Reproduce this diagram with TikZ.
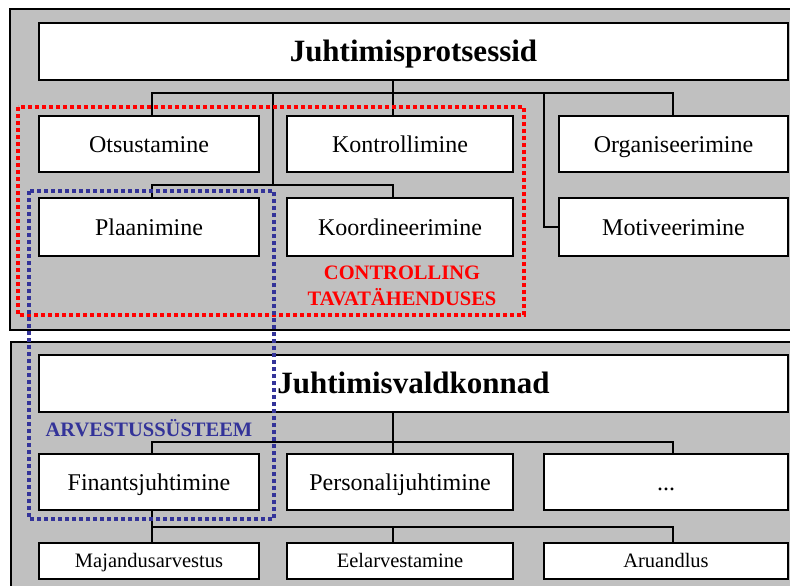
\documentclass[tikz,border=0pt]{standalone}
\usepackage{fontspec}
\setmainfont{Liberation Serif}
\begin{document}
\begin{tikzpicture}[x=1pt,y=-1pt,
  panel/.style={fill=panelgray,draw=black,line width=2pt},
  box/.style={draw=black,fill=white,line width=2pt,inner sep=0pt,
    font=\fontsize{24}{28}\selectfont,text height=16pt,text depth=0pt},
  titlebox/.style={box,font=\fontsize{31}{36}\selectfont\bfseries,text height=20.5pt},
  smallbox/.style={box,font=\fontsize{20.5}{24}\selectfont,text height=13.5pt},
  link/.style={draw=black,line width=2pt},
  reddots/.style={draw=red,line width=3.8pt,dash pattern=on 4pt off 3pt},
  bluedots/.style={draw=dotblue,line width=3.8pt,dash pattern=on 4pt off 3pt},
  tag/.style={font=\fontsize{20.5}{26}\selectfont\bfseries,align=center,inner sep=0pt}]
\definecolor{panelgray}{HTML}{C0C0C0}
\definecolor{dotblue}{HTML}{333399}
\useasboundingbox (0,0) rectangle (790,586);
\clip (0,0) rectangle (790,586);

% two grey panels
\draw[panel] (10,9) rectangle (805,330);
\draw[panel] (11,342) rectangle (805,600);

% management processes
\node[titlebox,minimum width=749pt,minimum height=57pt] (proc) at (413.5,51.5) {Juhtimisprotsessid};
\node[box,minimum width=220pt,minimum height=56pt] (ots) at (149,144) {Otsustamine};
\node[box,minimum width=226pt,minimum height=56pt] (kon) at (400,144) {Kontrollimine};
\node[box,minimum width=229pt,minimum height=56pt] (org) at (673.5,144) {Organiseerimine};
\node[box,minimum width=220pt,minimum height=58pt] (pla) at (149,227) {Plaanimine};
\node[box,minimum width=226pt,minimum height=58pt] (koo) at (400,227) {Koordineerimine};
\node[box,minimum width=229pt,minimum height=58pt] (mot) at (673.5,227) {Motiveerimine};

% management areas
\node[titlebox,minimum width=749pt,minimum height=57pt] (vald) at (413.5,383.5) {Juhtimisvaldkonnad};
\node[box,minimum width=220pt,minimum height=56pt] (fin) at (149,482) {Finantsjuhtimine};
\node[box,minimum width=226pt,minimum height=56pt] (per) at (400,482) {Personalijuhtimine};
\node[box,minimum width=244pt,minimum height=56pt] (etc) at (666,482) {...};
\node[smallbox,minimum width=220pt,minimum height=36pt] (maj) at (149,561) {Majandusarvestus};
\node[smallbox,minimum width=226pt,minimum height=36pt] (eel) at (400,561) {Eelarvestamine};
\node[smallbox,minimum width=244pt,minimum height=36pt] (aru) at (666,561) {Aruandlus};

% bus columns and junctions
\coordinate (xl) at (152,0);
\coordinate (xm) at (393,0);
\coordinate (xr) at (673,0);
\coordinate (j1) at (393,93);
\coordinate (j1a) at (273,93);
\coordinate (j1b) at (544,93);
\coordinate (j2) at (273,185);
\coordinate (j3) at (393,442);
\coordinate (j4) at (393,527);

% process tree
\draw[link] (proc.south -| j1) -- (j1);
\draw[link] (ots.north -| xl) |- (j1) -| (org.north -| xr);
\draw[link] (j1) -- (kon.north -| xm);
\draw[link] (j1a) -- (j2);
\draw[link] (pla.north -| xl) |- (j2) -| (koo.north -| xm);
\draw[link] (j1b) |- (mot.west);

% area tree
\draw[link] (vald.south -| j3) -- (j3);
\draw[link] (fin.north -| xl) |- (j3) -| (etc.north -| xr);
\draw[link] (j3) -- (per.north -| xm);
\draw[link] (fin.south -| xl) |- (j4) -| (aru.north -| xr);
\draw[link] (fin.south -| xl) -- (maj.north -| xl);
\draw[link] (j4) -- (eel.north -| xm);

% dotted groupings
\draw[reddots] (18,107) rectangle (524,315);
\draw[bluedots] (29,191) rectangle (274,519);
\node[tag,text=red] (ctrl) at (402,286) {CONTROLLING\\TAVATÄHENDUSES};
\node[tag,text=dotblue] (arv) at (149,428) {ARVESTUSSÜSTEEM};
\end{tikzpicture}
\end{document}
